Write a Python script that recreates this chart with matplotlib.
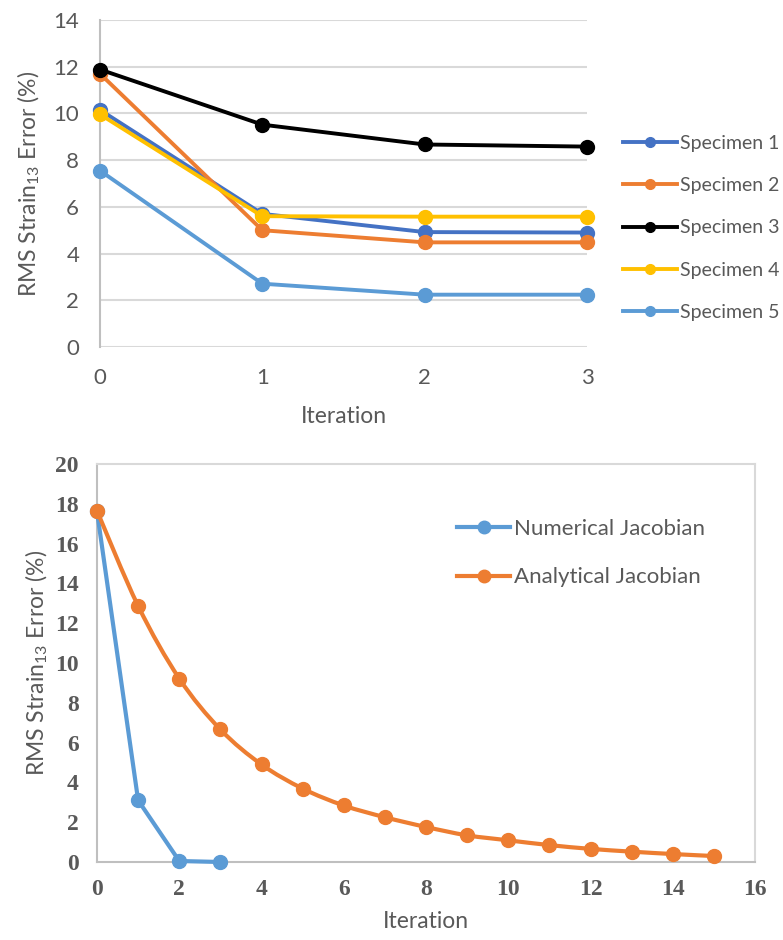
import numpy as np
import matplotlib
matplotlib.use("Agg")
import matplotlib.pyplot as plt
from matplotlib.path import Path
from matplotlib.patches import PathPatch
from matplotlib.lines import Line2D

# top chart data
iters_top = [0, 1, 2, 3]
specimen_names = ["Specimen 1", "Specimen 2", "Specimen 3", "Specimen 4", "Specimen 5"]
spec1 = [10.15, 5.7, 4.92, 4.9]
spec2 = [11.7, 5.0, 4.48, 4.48]
spec3 = [11.88, 9.52, 8.67, 8.58]
spec4 = [9.96, 5.6, 5.58, 5.58]
spec5 = [7.55, 2.71, 2.24, 2.24]
spec_colors = ["#4472C4", "#ED7D31", "#000000", "#FFC000", "#5B9BD5"]

# bottom chart data
iters_num = [0, 1, 2, 3]
numerical = [17.62, 3.1, 0.05, 0.0]
iters_ana = list(range(16))
analytical = [17.65, 12.87, 9.22, 6.66, 4.9, 3.69, 2.84, 2.25,
              1.76, 1.34, 1.09, 0.85, 0.66, 0.52, 0.40, 0.30]

gray = "#595959"
grid_c = "#D9D9D9"
sans = ["Lato", "DejaVu Sans"]
serif = ["Liberation Serif", "DejaVu Serif"]

plt.rcParams["mathtext.fontset"] = "custom"
plt.rcParams["mathtext.rm"] = "Lato"
plt.rcParams["mathtext.it"] = "Lato:italic"

fig = plt.figure(figsize=(7.83, 9.4), dpi=100)
W, H = 783, 940

def ax_rect(l, t, r, b):
    return [l / W, 1 - b / H, (r - l) / W, (b - t) / H]

ylab = r"RMS Strain$_{\mathrm{13}}$ Error (%)"

# ---------- top ----------
ax1 = fig.add_axes(ax_rect(100, 20, 587, 347))
for vals, name, c in zip([spec1, spec2, spec3, spec4, spec5], specimen_names, spec_colors):
    ax1.plot(iters_top, vals, color=c, lw=2.8, marker="o", ms=10, label=name,
             clip_on=False, zorder=3)
ax1.set_xlim(0, 3)
ax1.set_ylim(0, 14)
ax1.set_yticks(range(0, 15, 2))
ax1.set_xticks(iters_top)
ax1.grid(axis="y", color=grid_c, lw=1.5)
ax1.set_axisbelow(True)
for s in ["top", "right", "bottom"]:
    ax1.spines[s].set_visible(False)
ax1.spines["left"].set_color("#BFBFBF")
ax1.spines["left"].set_linewidth(1.5)
ax1.tick_params(length=0, labelcolor=gray, labelsize=16)
ax1.tick_params(axis="y", pad=15)
ax1.tick_params(axis="x", pad=15)
for lab in ax1.get_xticklabels() + ax1.get_yticklabels():
    lab.set_family(sans)
ax1.set_xlabel("Iteration", fontsize=16.5, color=gray, family=sans, labelpad=13)
ax1.set_ylabel(ylab, fontsize=16.5, color=gray, family=sans, labelpad=8)
leg_handles = [Line2D([], [], color=c, lw=2.8, marker="o", ms=7) for c in spec_colors]
leg1 = ax1.legend(leg_handles, specimen_names, loc="center left",
                  bbox_to_anchor=(623 / W, 1 - 228 / H), bbox_transform=fig.transFigure,
                  frameon=False, fontsize=14, handlelength=2.8, handletextpad=0.15,
                  labelspacing=1.3, borderpad=0, borderaxespad=0)
for t in leg1.get_texts():
    t.set_color(gray)
    t.set_family(sans)

# ---------- bottom ----------
ax2 = fig.add_axes(ax_rect(97, 464, 755, 862))
ax2.plot(iters_num, numerical, color="#5B9BD5", lw=3, marker="o", ms=10,
         clip_on=False, zorder=3)

# smoothed line through analytical points (Catmull-Rom as cubic Bezier)
xa = np.array(iters_ana, float)
ya = np.array(analytical, float)
pts = np.column_stack([xa, ya])
verts = [pts[0]]
codes = [Path.MOVETO]
n = len(pts)
for i in range(n - 1):
    p0 = pts[max(i - 1, 0)]
    p1 = pts[i]
    p2 = pts[i + 1]
    p3 = pts[min(i + 2, n - 1)]
    c1 = p1 + (p2 - p0) / 6
    c2 = p2 - (p3 - p1) / 6
    verts += [c1, c2, p2]
    codes += [Path.CURVE4] * 3
ax2.add_patch(PathPatch(Path(verts, codes), facecolor="none", edgecolor="#ED7D31",
                        lw=3, zorder=3, clip_on=False))
ax2.plot(iters_ana, analytical, linestyle="none", color="#ED7D31", marker="o", ms=10,
         clip_on=False, zorder=4)

ax2.set_xlim(0, 16)
ax2.set_ylim(0, 20)
ax2.set_xticks(range(0, 17, 2))
ax2.set_yticks(range(0, 21, 2))
for s in ["top", "right"]:
    ax2.spines[s].set_color(grid_c)
    ax2.spines[s].set_linewidth(1.5)
for s in ["left", "bottom"]:
    ax2.spines[s].set_color("#BFBFBF")
    ax2.spines[s].set_linewidth(1.5)
ax2.tick_params(length=0, labelcolor=gray, labelsize=17)
ax2.tick_params(axis="y", pad=13)
ax2.tick_params(axis="x", pad=12)
for lab in ax2.get_xticklabels() + ax2.get_yticklabels():
    lab.set_family(serif)
    lab.set_fontweight("bold")
ax2.set_xlabel("Iteration", fontsize=16.5, color=gray, family=sans, labelpad=8)
ax2.set_ylabel(ylab, fontsize=16.5, color=gray, family=sans, labelpad=4)
h2 = [Line2D([], [], color="#5B9BD5", lw=3, marker="o", ms=9),
      Line2D([], [], color="#ED7D31", lw=3, marker="o", ms=9)]
leg2 = ax2.legend(h2, ["Numerical Jacobian", "Analytical Jacobian"], loc="center left",
                  bbox_to_anchor=(457 / W, 1 - 553 / H), bbox_transform=fig.transFigure,
                  frameon=False, fontsize=16, handlelength=2.4, handletextpad=0.15,
                  labelspacing=1.3, borderpad=0, borderaxespad=0)
for t in leg2.get_texts():
    t.set_color(gray)
    t.set_family(sans)

fig.savefig("out.png", dpi=100)
